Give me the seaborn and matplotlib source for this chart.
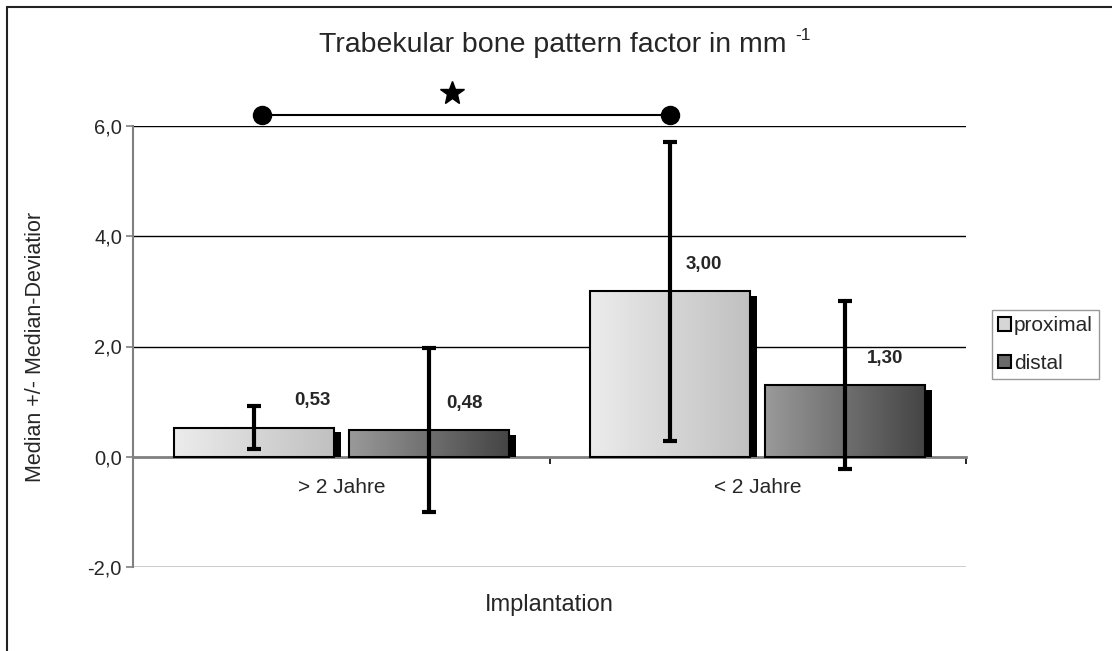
import matplotlib
matplotlib.use('Agg')
import matplotlib.pyplot as plt
from matplotlib.colors import LinearSegmentedColormap
from matplotlib.patches import Rectangle, Patch
from matplotlib.lines import Line2D
import numpy as np
import pandas as pd
import seaborn as sns

# data
categories = ['> 2 Jahre', '< 2 Jahre']
locations = ['proximal', 'distal']
proximal = [0.53, 3.00]
distal = [0.48, 1.30]
proximal_dev = [0.39, 2.71]
distal_dev = [1.49, 1.52]
value_labels = ['0,53', '3,00', '0,48', '1,30']
sig_x = [-0.19, 0.79]
sig_y = 6.2
star_xy = (0.265, 6.6)

sns.set_style('white')
plt.rcParams['font.family'] = ['Liberation Sans', 'DejaVu Sans']

df = pd.DataFrame({
    'Implantation': categories * 2,
    'loc': [locations[0]] * 2 + [locations[1]] * 2,
    'value': proximal + distal,
})
devs = proximal_dev + distal_dev

fig = plt.figure(figsize=(11.12, 6.51), dpi=100)
ax = fig.add_axes([133 / 1112, 1 - 567 / 651, 833 / 1112, 441 / 651])

sns.barplot(data=df, x='Implantation', y='value', hue='loc', hue_order=locations,
            order=categories, width=0.84, gap=0.085, legend=False, ax=ax,
            palette=['#d6d6d6', '#707070'], saturation=1)

grads = [('#ececec', '#c0c0c0')] * 2 + [('#9a9a9a', '#444444')] * 2
centers = []
tops = []
for patch, (c0, c1) in zip(ax.patches[:4], grads):
    x, w, h = patch.get_x(), patch.get_width(), patch.get_height()
    centers.append(x + w / 2)
    tops.append(h)
    # drop shadow on the right side
    ax.add_patch(Rectangle((x + w, 0), 0.017, h - 0.09, facecolor='black',
                           edgecolor='none', zorder=2.2))
    cmap = LinearSegmentedColormap.from_list('g', [c0, c1])
    im = ax.imshow(np.linspace(0, 1, 256).reshape(1, -1), cmap=cmap, aspect='auto',
                   extent=[x, x + w, 0, h], zorder=2.4, interpolation='bilinear')
    im.set_clip_path(patch)
    patch.set_facecolor('none')
    patch.set_edgecolor('black')
    patch.set_linewidth(1.5)
    patch.set_zorder(2.6)

ax.errorbar(centers, tops, yerr=devs, fmt='none', ecolor='black', elinewidth=3,
            capsize=4.7, capthick=3, zorder=4)

label_dx = [42, 24, 26, 29]
for cx, t, lab, dx in zip(centers, tops, value_labels, label_dx):
    ax.annotate(lab, (cx, t), xytext=(dx, 19.5), textcoords='offset points',
                ha='center', va='center', fontsize=13.5, fontweight='bold', zorder=5)

# significance bracket
ax.plot(sig_x, [sig_y, sig_y], color='black', lw=1.5, marker='o', markersize=13,
        clip_on=False, zorder=5)
ax.plot([star_xy[0]], [star_xy[1]], marker='*', color='black', markersize=18,
        clip_on=False, zorder=5)

ax.set_xlim(-0.5, 1.5)
ax.set_ylim(-2, 6)
ax.set_yticks([-2, 0, 2, 4, 6])
ax.set_yticklabels(['-2,0', '0,0', '2,0', '4,0', '6,0'], fontsize=14.5)
ax.yaxis.grid(True, color='black', lw=1.0)
ax.get_ygridlines()[1].set_visible(False)
ax.set_axisbelow(True)
ax.tick_params(axis='y', which='major', length=5, width=1.2, color='#808080',
               direction='out', left=True, pad=3)

for s in ['top', 'right']:
    ax.spines[s].set_visible(False)
ax.spines['left'].set_color('#808080')
ax.spines['left'].set_linewidth(1.5)
ax.spines['bottom'].set_position(('data', 0))
ax.spines['bottom'].set_color('#808080')
ax.spines['bottom'].set_linewidth(2)
ax.spines['bottom'].set_zorder(2.1)

ax.set_xticks([0, 1])
ax.set_xticklabels(categories, fontsize=15)
ax.set_xticks([-0.5, 0.5, 1.5], minor=True)
ax.tick_params(axis='x', which='major', length=0, pad=15)
ax.tick_params(axis='x', which='minor', length=5, width=1.2, color='black',
               direction='out', bottom=True)

ax.set_xlabel('Implantation', fontsize=17)
ax.xaxis.set_label_coords(0.5, -0.062)
ax.set_ylabel('Median +/- Median-Deviatior', fontsize=15.5)
ax.yaxis.set_label_coords(-0.105, 0.5)

title = fig.text(553 / 1112, 1 - 45 / 651, 'Trabekular bone pattern factor in mm',
                 ha='center', va='center', fontsize=20.5)
# superscript "-1" placed right after the title
fig.canvas.draw()
tb = title.get_window_extent()
fig.text((tb.x1 + 9) / 1112, (tb.y1 - 4) / 651, '-1', ha='left', va='center', fontsize=12.5)

handles = [Patch(facecolor='#d6d6d6', edgecolor='black', lw=1.5),
           Patch(facecolor='#6a6a6a', edgecolor='black', lw=1.5)]
leg = fig.legend(handles, locations, loc='upper left',
                 bbox_to_anchor=(992 / 1112, 1 - 310 / 651), fontsize=15,
                 handlelength=0.6, handleheight=0.6, handletextpad=0.15,
                 borderpad=0.3, labelspacing=0.9, fancybox=False, borderaxespad=0)
leg.get_frame().set_edgecolor('#808080')
leg.get_frame().set_linewidth(1)

# outer chart frame (left and top edges)
fig.add_artist(Line2D([7 / 1112, 7 / 1112], [0, 1 - 7 / 651], color='#222222', lw=1.5))
fig.add_artist(Line2D([7 / 1112, 1], [1 - 7 / 651, 1 - 7 / 651], color='#222222', lw=1.5))

fig.savefig('out.png', dpi=100)
